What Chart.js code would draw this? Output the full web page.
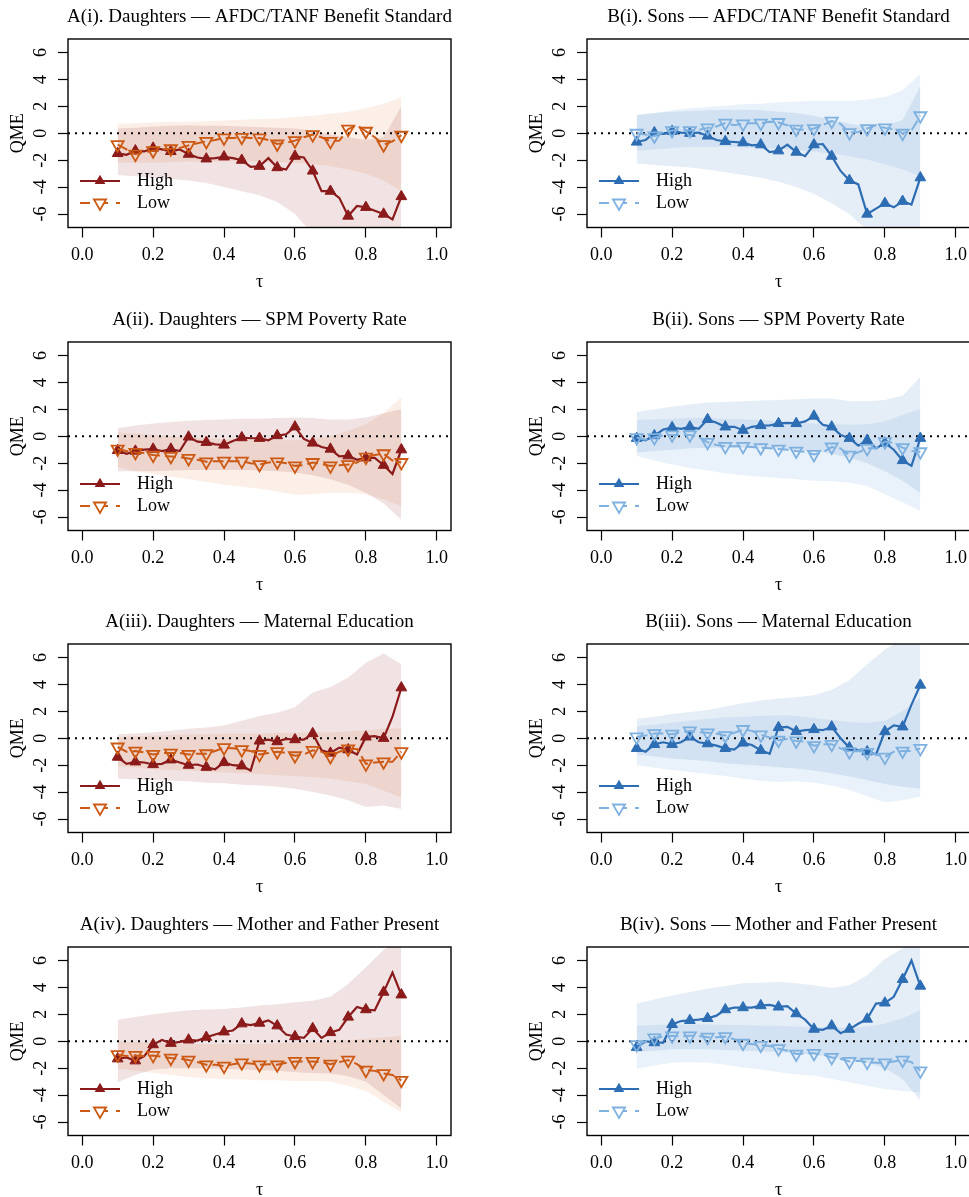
<!DOCTYPE html>
<html>
<head>
<meta charset="utf-8">
<script src="https://cdn.jsdelivr.net/npm/chart.js@4.4.1/dist/chart.umd.min.js"></script>
<style>
  html, body { margin: 0; padding: 0; background: #fff; }
  #fig { position: relative; width: 969px; height: 1197px; overflow: hidden; }
  #fig canvas { position: absolute; }
</style>
</head>
<body>
<div id="fig"></div>
<script>
"use strict";

const FONT = '"Liberation Serif", "Times New Roman", serif';

// quantile grid (markers every other point) and band grid
const TAU = [0.1, 0.125, 0.15, 0.175, 0.2, 0.225, 0.25, 0.275, 0.3, 0.325, 0.35, 0.375, 0.4, 0.425, 0.45, 0.475,
  0.5, 0.525, 0.55, 0.575, 0.6, 0.625, 0.65, 0.675, 0.7, 0.725, 0.75, 0.775, 0.8, 0.825, 0.85, 0.875, 0.9];
const TAU_BAND = [0.1, 0.15, 0.2, 0.25, 0.3, 0.35, 0.4, 0.45, 0.5, 0.55, 0.6, 0.65, 0.7, 0.75, 0.8, 0.85, 0.9];
const X_TICKS = [0, 0.2, 0.4, 0.6, 0.8, 1.0];
const Y_TICKS = [-6, -4, -2, 0, 2, 4, 6];
const X_RANGE = [-0.04, 1.04];
const Y_RANGE = [-7, 7];
const SERIES_LABELS = ["High", "Low"];

// A(i) daughters, AFDC/TANF benefit standard
const A1_HIGH = [-1.5, -1.6, -1.3, -1.35, -1.1, -1.2, -1.35, -1.2, -1.55, -1.8, -1.9, -1.85, -1.75, -1.85, -2.0, -2.5,
  -2.45, -1.85, -2.55, -2.7, -1.7, -1.8, -2.8, -4.3, -4.3, -4.8, -6.15, -5.4, -5.5, -5.75, -6.0, -6.4, -4.7];
const A1_LOW = [-0.85, -1.2, -1.55, -1.4, -1.3, -1.2, -1.15, -1.1, -0.9, -0.75, -0.6, -0.5, -0.35, -0.35, -0.3, -0.35,
  -0.35, -0.5, -0.8, -0.7, -0.55, -0.3, -0.1, -0.3, -0.6, -0.55, 0.3, 0.6, 0.15, -0.3, -0.85, -0.6, -0.15];
const A1_HIGH_HI = [0.35, 0.4, 0.5, 0.55, 0.6, 0.55, 0.55, 0.5, 0.45, 0.4, 0.35, 0.2, -0.1, -0.3, -0.5, -0.3, 2.0];
const A1_HIGH_LO = [-3.1, -3.2, -3.3, -3.4, -3.5, -3.7, -4.0, -4.3, -4.6, -5.1, -6.0, -7.5, -8.5, -9.5, -9.5, -10, -11];
const A1_LOW_HI = [0.7, 0.75, 0.8, 0.85, 0.85, 0.9, 0.95, 1.0, 1.05, 1.1, 1.2, 1.3, 1.45, 1.6, 1.85, 2.2, 2.7];
const A1_LOW_LO = [-2.2, -2.2, -2.2, -2.15, -2.1, -2.1, -2.1, -2.1, -2.1, -2.15, -2.2, -2.3, -2.45, -2.7, -3.0, -3.5, -4.3];

// B(i) sons, AFDC/TANF benefit standard
const B1_HIGH = [-0.65, -0.5, 0.05, -0.05, 0.15, 0.05, 0.0, 0.05, -0.2, -0.5, -0.6, -0.65, -0.7, -0.9, -0.85, -1.4,
  -1.3, -0.85, -1.4, -1.7, -0.85, -0.8, -1.7, -2.8, -3.5, -3.8, -6.0, -5.6, -5.2, -5.5, -5.05, -5.3, -3.3];
const B1_LOW = [0.0, -0.1, -0.2, 0.1, 0.2, 0.25, 0.2, 0.25, 0.4, 0.5, 0.75, 0.6, 0.7, 0.75, 0.75, 0.85,
  0.8, 0.6, 0.3, 0.25, 0.35, 0.6, 0.9, 0.7, 0.05, 0.1, 0.35, 0.6, 0.4, 0.3, 0.0, 0.2, 1.3];
const B1_HIGH_HI = [1.4, 1.5, 1.6, 1.65, 1.7, 1.75, 1.75, 1.7, 1.6, 1.5, 1.3, 1.0, 0.7, 0.5, 0.5, 1.0, 3.5];
const B1_HIGH_LO = [-2.25, -2.35, -2.45, -2.55, -2.7, -2.9, -3.1, -3.3, -3.6, -4.0, -4.5, -5.2, -6.0, -7.2, -8.0, -8.5, -9.0];
const B1_LOW_HI = [1.3, 1.5, 1.7, 1.85, 1.95, 2.05, 2.15, 2.2, 2.3, 2.35, 2.4, 2.4, 2.4, 2.5, 2.7, 3.2, 4.4];
const B1_LOW_LO = [-1.3, -1.2, -1.1, -1.0, -1.0, -1.0, -1.05, -1.1, -1.15, -1.25, -1.35, -1.5, -1.7, -1.95, -2.3, -2.7, -3.2];

// A(ii) daughters, SPM poverty rate
const A2_HIGH = [-1.05, -1.3, -1.1, -1.0, -0.95, -1.1, -0.95, -1.1, -0.05, -0.4, -0.45, -0.6, -0.65, -0.35, -0.1, -0.15,
  -0.15, -0.3, 0.05, 0.15, 0.7, -0.2, -0.5, -0.8, -0.95, -1.5, -1.45, -1.75, -1.6, -1.6, -2.15, -2.8, -1.0];
const A2_LOW = [-0.95, -1.1, -1.2, -1.25, -1.4, -1.45, -1.5, -1.55, -1.65, -1.75, -1.9, -1.85, -1.85, -1.85, -1.85, -2.0,
  -2.1, -1.95, -1.9, -2.0, -2.2, -2.15, -1.95, -2.05, -2.2, -2.15, -2.1, -1.95, -1.55, -1.4, -1.3, -1.8, -1.95];
const A2_HIGH_HI = [0.6, 0.8, 0.95, 1.05, 1.15, 1.2, 1.25, 1.3, 1.3, 1.35, 1.4, 1.35, 1.25, 1.25, 1.4, 1.7, 2.0];
const A2_HIGH_LO = [-2.6, -2.6, -2.6, -2.55, -2.5, -2.5, -2.5, -2.5, -2.55, -2.6, -2.7, -2.9, -3.2, -3.6, -4.2, -5.0, -6.2];
const A2_LOW_HI = [0.3, 0.2, 0.1, 0.0, -0.1, -0.15, -0.2, -0.25, -0.3, -0.3, -0.3, -0.2, 0.0, 0.4, 0.9, 1.7, 2.9];
const A2_LOW_LO = [-2.3, -2.6, -2.8, -3.0, -3.2, -3.4, -3.6, -3.75, -3.9, -4.1, -4.35, -4.3, -4.2, -4.2, -4.3, -4.7, -5.2];

// B(ii) sons, SPM poverty rate
const B2_HIGH = [-0.15, -0.3, 0.05, 0.5, 0.65, 0.55, 0.7, 0.55, 1.25, 1.0, 0.7, 0.7, 0.45, 0.7, 0.8, 0.8,
  0.95, 1.0, 0.95, 1.1, 1.5, 0.85, 0.7, 0.1, -0.15, -0.7, -0.3, -0.9, -0.5, -1.0, -1.8, -2.2, -0.15];
const B2_LOW = [-0.1, -0.25, -0.1, 0.05, 0.1, 0.1, 0.1, -0.05, -0.45, -0.65, -0.75, -0.75, -0.75, -0.8, -0.85, -0.9,
  -0.95, -1.0, -1.1, -1.15, -1.35, -1.2, -0.8, -0.9, -1.4, -1.2, -0.9, -0.9, -0.4, -0.5, -0.85, -1.1, -1.15];
const B2_HIGH_HI = [1.8, 2.0, 2.2, 2.35, 2.5, 2.55, 2.6, 2.65, 2.7, 2.75, 2.8, 2.8, 2.6, 2.6, 2.7, 3.0, 4.4];
const B2_HIGH_LO = [-1.2, -1.1, -1.0, -0.9, -0.85, -0.85, -0.85, -0.85, -0.9, -1.0, -1.1, -1.3, -1.6, -2.0, -2.6, -3.3, -4.2];
const B2_LOW_HI = [1.2, 1.25, 1.3, 1.35, 1.35, 1.3, 1.25, 1.2, 1.1, 1.0, 0.95, 0.9, 0.85, 0.9, 1.1, 1.6, 2.0];
const B2_LOW_LO = [-1.45, -1.8, -2.1, -2.35, -2.55, -2.75, -2.9, -3.0, -3.1, -3.2, -3.3, -3.35, -3.45, -3.7, -4.3, -4.9, -5.55];

// A(iii) daughters, maternal education
const A3_HIGH = [-1.4, -1.9, -1.75, -1.8, -1.95, -1.9, -1.6, -1.8, -2.0, -1.95, -2.15, -2.3, -1.8, -2.0, -2.05, -2.4,
  -0.2, -0.1, -0.25, -0.05, -0.1, -0.1, 0.35, -0.9, -1.1, -0.7, -0.85, -1.2, 0.1, 0.15, 0.0, 1.6, 3.75];
const A3_LOW = [-0.65, -1.0, -0.95, -1.05, -1.2, -1.1, -1.1, -1.1, -1.2, -1.15, -1.15, -0.95, -0.7, -0.75, -0.85, -0.95,
  -1.2, -1.1, -1.0, -1.1, -1.3, -1.2, -0.9, -1.0, -1.35, -1.0, -0.8, -0.8, -1.9, -1.8, -1.75, -1.75, -1.0];
const A3_HIGH_HI = [0.3, 0.35, 0.45, 0.55, 0.7, 0.8, 0.95, 1.3, 1.65, 1.9, 2.3, 3.4, 3.8, 4.5, 5.6, 6.3, 5.5];
const A3_HIGH_LO = [-3.0, -3.05, -3.1, -3.15, -3.2, -3.3, -3.35, -3.45, -3.5, -3.6, -3.75, -4.0, -4.25, -4.6, -5.1, -5.0, -5.25];
const A3_LOW_HI = [0.1, 0.15, 0.2, 0.25, 0.3, 0.3, 0.35, 0.35, 0.35, 0.4, 0.4, 0.45, 0.45, 0.5, 0.6, 0.7, 0.75];
const A3_LOW_LO = [-2.1, -2.2, -2.3, -2.35, -2.4, -2.5, -2.55, -2.6, -2.65, -2.75, -2.8, -2.9, -3.0, -3.2, -3.4, -3.9, -4.4];

// B(iii) sons, maternal education
const B3_HIGH = [-0.75, -1.0, -0.45, -0.3, -0.45, -0.3, 0.1, -0.3, -0.4, -0.55, -0.75, -0.85, -0.35, -0.5, -0.9, -1.15,
  0.8, 0.85, 0.5, 0.6, 0.65, 0.6, 0.85, 0.0, -0.7, -0.9, -1.0, -1.2, 0.5, 0.95, 0.85, 2.5, 3.95];
const B3_LOW = [0.1, 0.2, 0.35, 0.35, 0.3, 0.45, 0.55, 0.45, 0.4, 0.35, 0.2, 0.4, 0.65, 0.55, 0.25, 0.05,
  -0.15, -0.05, -0.2, -0.25, -0.55, -0.45, -0.45, -0.75, -1.0, -0.95, -1.05, -1.2, -1.4, -1.0, -0.95, -0.95, -0.75];
const B3_HIGH_HI = [1.45, 1.6, 1.8, 1.95, 2.1, 2.35, 2.6, 2.8, 2.95, 3.05, 3.2, 3.6, 4.3, 5.5, 6.6, 7.3, 8.0];
const B3_HIGH_LO = [-1.2, -1.35, -1.5, -1.6, -1.7, -1.85, -1.95, -2.05, -2.15, -2.25, -2.4, -2.6, -2.85, -3.1, -3.4, -3.6, -3.75];
const B3_LOW_HI = [0.9, 1.0, 1.15, 1.3, 1.45, 1.55, 1.6, 1.65, 1.7, 1.65, 1.5, 1.35, 1.2, 1.15, 1.3, 2.0, 3.0];
const B3_LOW_LO = [-2.0, -2.2, -2.35, -2.5, -2.65, -2.8, -3.0, -3.15, -3.25, -3.2, -3.3, -3.5, -3.85, -4.3, -4.75, -4.6, -4.35];

// A(iv) daughters, mother and father present
const A4_HIGH = [-1.3, -1.2, -1.45, -1.1, -0.25, 0.1, -0.15, -0.05, 0.1, 0.05, 0.3, 0.5, 0.7, 0.8, 1.3, 1.2,
  1.35, 1.55, 1.15, 0.5, 0.35, 0.25, 0.95, 0.25, 0.65, 0.85, 1.8, 2.55, 2.35, 2.3, 3.65, 5.1, 3.45];
const A4_LOW = [-1.0, -1.1, -1.05, -1.1, -1.05, -1.15, -1.25, -1.3, -1.4, -1.55, -1.75, -1.75, -1.85, -1.7, -1.6, -1.65,
  -1.75, -1.7, -1.75, -1.6, -1.5, -1.5, -1.5, -1.55, -1.7, -1.55, -1.4, -1.7, -2.15, -2.2, -2.4, -2.5, -2.9];
const A4_HIGH_HI = [1.6, 1.8, 2.0, 2.15, 2.3, 2.35, 2.4, 2.5, 2.65, 2.75, 2.9, 3.0, 3.3, 4.25, 5.5, 6.8, 7.5];
const A4_HIGH_LO = [-3.05, -2.5, -2.1, -2.0, -2.0, -2.0, -2.05, -2.1, -2.15, -2.2, -2.3, -2.35, -2.4, -2.6, -3.0, -4.0, -5.0];
const A4_LOW_HI = [0.0, -0.05, -0.1, -0.15, -0.2, -0.2, -0.2, -0.2, -0.2, -0.15, -0.1, -0.1, 0.0, 0.1, 0.2, 0.3, 0.4];
const A4_LOW_LO = [-2.05, -2.2, -2.35, -2.5, -2.65, -2.75, -2.8, -2.85, -2.9, -2.9, -2.95, -2.95, -3.0, -3.3, -3.7, -4.5, -5.3];

// B(iv) sons, mother and father present
const B4_HIGH = [-0.45, 0.0, -0.1, -0.1, 1.25, 1.5, 1.55, 1.6, 1.7, 1.9, 2.35, 2.5, 2.5, 2.5, 2.65, 2.7,
  2.55, 2.6, 2.05, 1.6, 0.9, 0.85, 1.15, 0.6, 0.9, 1.3, 1.65, 2.8, 2.85, 3.3, 4.6, 6.0, 4.1];
const B4_LOW = [-0.25, 0.0, 0.25, 0.35, 0.4, 0.35, 0.4, 0.4, 0.3, 0.3, 0.35, 0.15, -0.15, -0.2, -0.3, -0.35,
  -0.55, -0.7, -0.95, -0.9, -0.9, -1.0, -1.2, -1.3, -1.5, -1.45, -1.55, -1.6, -1.6, -1.5, -1.4, -1.55, -2.2];
const B4_HIGH_HI = [2.8, 3.1, 3.4, 3.65, 3.9, 4.1, 4.3, 4.35, 4.4, 4.3, 4.15, 3.95, 4.15, 4.9, 6.1, 6.9, 7.6];
const B4_HIGH_LO = [-0.8, -0.7, -0.6, -0.6, -0.6, -0.65, -0.7, -0.75, -0.8, -0.9, -1.0, -1.15, -1.35, -1.6, -2.0, -2.8, -4.4];
const B4_LOW_HI = [1.15, 1.2, 1.25, 1.25, 1.25, 1.2, 1.2, 1.15, 1.15, 1.1, 1.05, 1.0, 1.0, 1.1, 1.3, 1.7, 2.3];
const B4_LOW_LO = [-2.05, -1.8, -1.6, -1.55, -1.6, -1.75, -1.95, -2.1, -2.3, -2.45, -2.55, -2.8, -3.05, -3.3, -3.55, -3.7, -3.8];

// palettes: daughters red/orange, sons blue/light blue
const PAL_A = { high: "#8b1a1a", low: "#cc5a14", highBand: "rgba(139,26,26,0.12)", lowBand: "rgba(222,130,70,0.13)" };
const PAL_B = { high: "#2d6db4", low: "#7fb1e0", highBand: "rgba(45,109,180,0.12)", lowBand: "rgba(127,177,224,0.17)" };

const PANELS = [
  { title: "A(i). Daughters \u2014 AFDC/TANF Benefit Standard", col: 0, row: 0, pal: PAL_A,
    high: A1_HIGH, low: A1_LOW, highHi: A1_HIGH_HI, highLo: A1_HIGH_LO, lowHi: A1_LOW_HI, lowLo: A1_LOW_LO },
  { title: "B(i). Sons \u2014 AFDC/TANF Benefit Standard", col: 1, row: 0, pal: PAL_B,
    high: B1_HIGH, low: B1_LOW, highHi: B1_HIGH_HI, highLo: B1_HIGH_LO, lowHi: B1_LOW_HI, lowLo: B1_LOW_LO },
  { title: "A(ii). Daughters \u2014 SPM Poverty Rate", col: 0, row: 1, pal: PAL_A,
    high: A2_HIGH, low: A2_LOW, highHi: A2_HIGH_HI, highLo: A2_HIGH_LO, lowHi: A2_LOW_HI, lowLo: A2_LOW_LO },
  { title: "B(ii). Sons \u2014 SPM Poverty Rate", col: 1, row: 1, pal: PAL_B,
    high: B2_HIGH, low: B2_LOW, highHi: B2_HIGH_HI, highLo: B2_HIGH_LO, lowHi: B2_LOW_HI, lowLo: B2_LOW_LO },
  { title: "A(iii). Daughters \u2014 Maternal Education", col: 0, row: 2, pal: PAL_A,
    high: A3_HIGH, low: A3_LOW, highHi: A3_HIGH_HI, highLo: A3_HIGH_LO, lowHi: A3_LOW_HI, lowLo: A3_LOW_LO },
  { title: "B(iii). Sons \u2014 Maternal Education", col: 1, row: 2, pal: PAL_B,
    high: B3_HIGH, low: B3_LOW, highHi: B3_HIGH_HI, highLo: B3_HIGH_LO, lowHi: B3_LOW_HI, lowLo: B3_LOW_LO },
  { title: "A(iv). Daughters \u2014 Mother and Father Present", col: 0, row: 3, pal: PAL_A,
    high: A4_HIGH, low: A4_LOW, highHi: A4_HIGH_HI, highLo: A4_HIGH_LO, lowHi: A4_LOW_HI, lowLo: A4_LOW_LO },
  { title: "B(iv). Sons \u2014 Mother and Father Present", col: 1, row: 3, pal: PAL_B,
    high: B4_HIGH, low: B4_LOW, highHi: B4_HIGH_HI, highLo: B4_HIGH_LO, lowHi: B4_LOW_HI, lowLo: B4_LOW_LO },
];

// cell geometry (the right column is cropped by the figure edge)
const CELL_W = 519, CELL_H = 303;
const COL_LEFT = [0, 519];
const ROW_TOP = [0, 303, 605, 908];

function pairs(xs, ys) {
  return xs.map((x, i) => ({ x, y: ys[i] }));
}

function triangle(ctx, x, y, r, down) {
  const s = down ? -1 : 1;
  ctx.beginPath();
  ctx.moveTo(x, y - s * r);
  ctx.lineTo(x + r * 0.866, y + s * r * 0.5);
  ctx.lineTo(x - r * 0.866, y + s * r * 0.5);
  ctx.closePath();
}

// zero reference line, frame and bottom-left legend
const framePlugin = {
  id: "frame",
  beforeDatasetsDraw(chart) {
    const { ctx, chartArea: a } = chart;
    const y0 = chart.scales.y.getPixelForValue(0);
    ctx.save();
    ctx.beginPath();
    ctx.rect(a.left, a.top, a.right - a.left, a.bottom - a.top);
    ctx.clip();
    ctx.setLineDash([2, 5]);
    ctx.lineWidth = 2;
    ctx.strokeStyle = "#000";
    ctx.beginPath();
    ctx.moveTo(a.left, y0);
    ctx.lineTo(a.right, y0);
    ctx.stroke();
    ctx.restore();
  },
  afterDatasetsDraw(chart) {
    const { ctx, chartArea: a } = chart;
    ctx.save();
    ctx.lineWidth = 1.4;
    ctx.strokeStyle = "#000";
    ctx.strokeRect(a.left, a.top, a.right - a.left, a.bottom - a.top);

    const items = [chart.data.datasets[1], chart.data.datasets[0]];
    items.forEach((ds, k) => {
      const yy = a.bottom - 46.5 + k * 22;
      const x0 = a.left + 12, x1 = a.left + 52;
      ctx.strokeStyle = ds.borderColor;
      ctx.lineWidth = ds.borderWidth;
      ctx.setLineDash(ds.borderDash ? [10, 8] : []);
      ctx.beginPath();
      ctx.moveTo(x0, yy);
      ctx.lineTo(x1, yy);
      ctx.stroke();
      ctx.setLineDash([]);
      triangle(ctx, (x0 + x1) / 2, yy, ds.markerSize, ds.pointRotation === 180);
      if (ds.pointRotation === 180) {
        ctx.fillStyle = "#fff";
        ctx.fill();
        ctx.lineWidth = ds.pointBorderWidth;
        ctx.strokeStyle = ds.pointBorderColor;
        ctx.stroke();
      } else {
        ctx.fillStyle = ds.pointBackgroundColor;
        ctx.fill();
      }
      ctx.fillStyle = "#000";
      ctx.font = "18px " + FONT;
      ctx.textAlign = "left";
      ctx.textBaseline = "middle";
      ctx.fillText(ds.label, a.left + 69, yy);
    });
    ctx.restore();
  },
};

const fig = document.getElementById("fig");

PANELS.forEach((p) => {
  const cv = document.createElement("canvas");
  cv.width = CELL_W;
  cv.height = CELL_H;
  cv.style.left = COL_LEFT[p.col] + "px";
  cv.style.top = ROW_TOP[p.row] + "px";
  fig.appendChild(cv);

  const axisFont = { family: FONT, size: 18 };
  const band = (ys, fill, color) => ({
    data: pairs(TAU_BAND, ys),
    fill: fill,
    backgroundColor: color,
    borderWidth: 0,
    borderColor: "rgba(0,0,0,0)",
    pointRadius: 0,
    tension: 0,
  });

  new Chart(cv.getContext("2d"), {
    type: "line",
    data: {
      datasets: [
        {
          label: SERIES_LABELS[1],
          data: pairs(TAU, p.low),
          borderColor: p.pal.low,
          borderWidth: 2,
          borderDash: [11, 5],
          fill: false,
          tension: 0,
          pointStyle: "triangle",
          pointRotation: 180,
          pointBackgroundColor: "rgba(0,0,0,0)",
          pointBorderColor: p.pal.low,
          pointBorderWidth: 1.8,
          pointRadius: (c) => (c.dataIndex % 2 === 0 ? 7 : 0),
          markerSize: 7,
        },
        {
          label: SERIES_LABELS[0],
          data: pairs(TAU, p.high),
          borderColor: p.pal.high,
          borderWidth: 2.2,
          fill: false,
          tension: 0,
          pointStyle: "triangle",
          pointRotation: 0,
          pointBackgroundColor: p.pal.high,
          pointBorderColor: p.pal.high,
          pointBorderWidth: 1,
          pointRadius: (c) => (c.dataIndex % 2 === 0 ? 6.2 : 0),
          markerSize: 6.2,
        },
        band(p.highHi, "+1", p.pal.highBand),
        band(p.highLo, false, "rgba(0,0,0,0)"),
        band(p.lowHi, "+1", p.pal.lowBand),
        band(p.lowLo, false, "rgba(0,0,0,0)"),
      ],
    },
    options: {
      responsive: false,
      animation: false,
      events: [],
      layout: { padding: 0 },
      plugins: {
        legend: { display: false },
        tooltip: { enabled: false },
        filler: { drawTime: "beforeDatasetsDraw" },
        title: {
          display: true,
          text: p.title,
          color: "#000",
          font: { family: FONT, size: 19, weight: "normal", lineHeight: 1.2 },
          padding: { top: 5.6, bottom: 10.6 },
        },
      },
      scales: {
        x: {
          type: "linear",
          min: X_RANGE[0],
          max: X_RANGE[1],
          afterBuildTicks: (s) => { s.ticks = X_TICKS.map((v) => ({ value: v })); },
          afterFit: (s) => { s.height = 75.5; },
          border: { display: false },
          grid: { drawOnChartArea: false, drawTicks: true, tickLength: 10, tickColor: "#000", tickWidth: 1.2 },
          ticks: {
            color: "#000", font: axisFont, padding: 7, autoSkip: false,
            maxRotation: 0, minRotation: 0,
            callback: (v) => Number(v).toFixed(1),
          },
          title: { display: true, text: "\u03c4", color: "#000", font: axisFont, padding: { top: 0, bottom: 10 } },
        },
        y: {
          type: "linear",
          position: "left",
          min: Y_RANGE[0],
          max: Y_RANGE[1],
          afterBuildTicks: (s) => { s.ticks = Y_TICKS.map((v) => ({ value: v })); },
          afterFit: (s) => { s.width = 68; },
          border: { display: false },
          grid: { drawOnChartArea: false, drawTicks: true, tickLength: 10, tickColor: "#000", tickWidth: 1.2 },
          ticks: {
            color: "#000", font: axisFont, padding: 9, autoSkip: false,
            minRotation: 90, maxRotation: 90, crossAlign: "center",
            callback: (v) => String(v),
          },
          title: { display: true, text: "QME", color: "#000", font: axisFont, padding: { top: 7.5, bottom: 0 } },
        },
        yR: {
          type: "linear",
          position: "right",
          display: true,
          afterFit: (s) => { s.width = 68; },
          border: { display: false },
          grid: { display: false },
          ticks: { display: false },
        },
      },
    },
    plugins: [framePlugin],
  });
});
</script>
</body>
</html>
